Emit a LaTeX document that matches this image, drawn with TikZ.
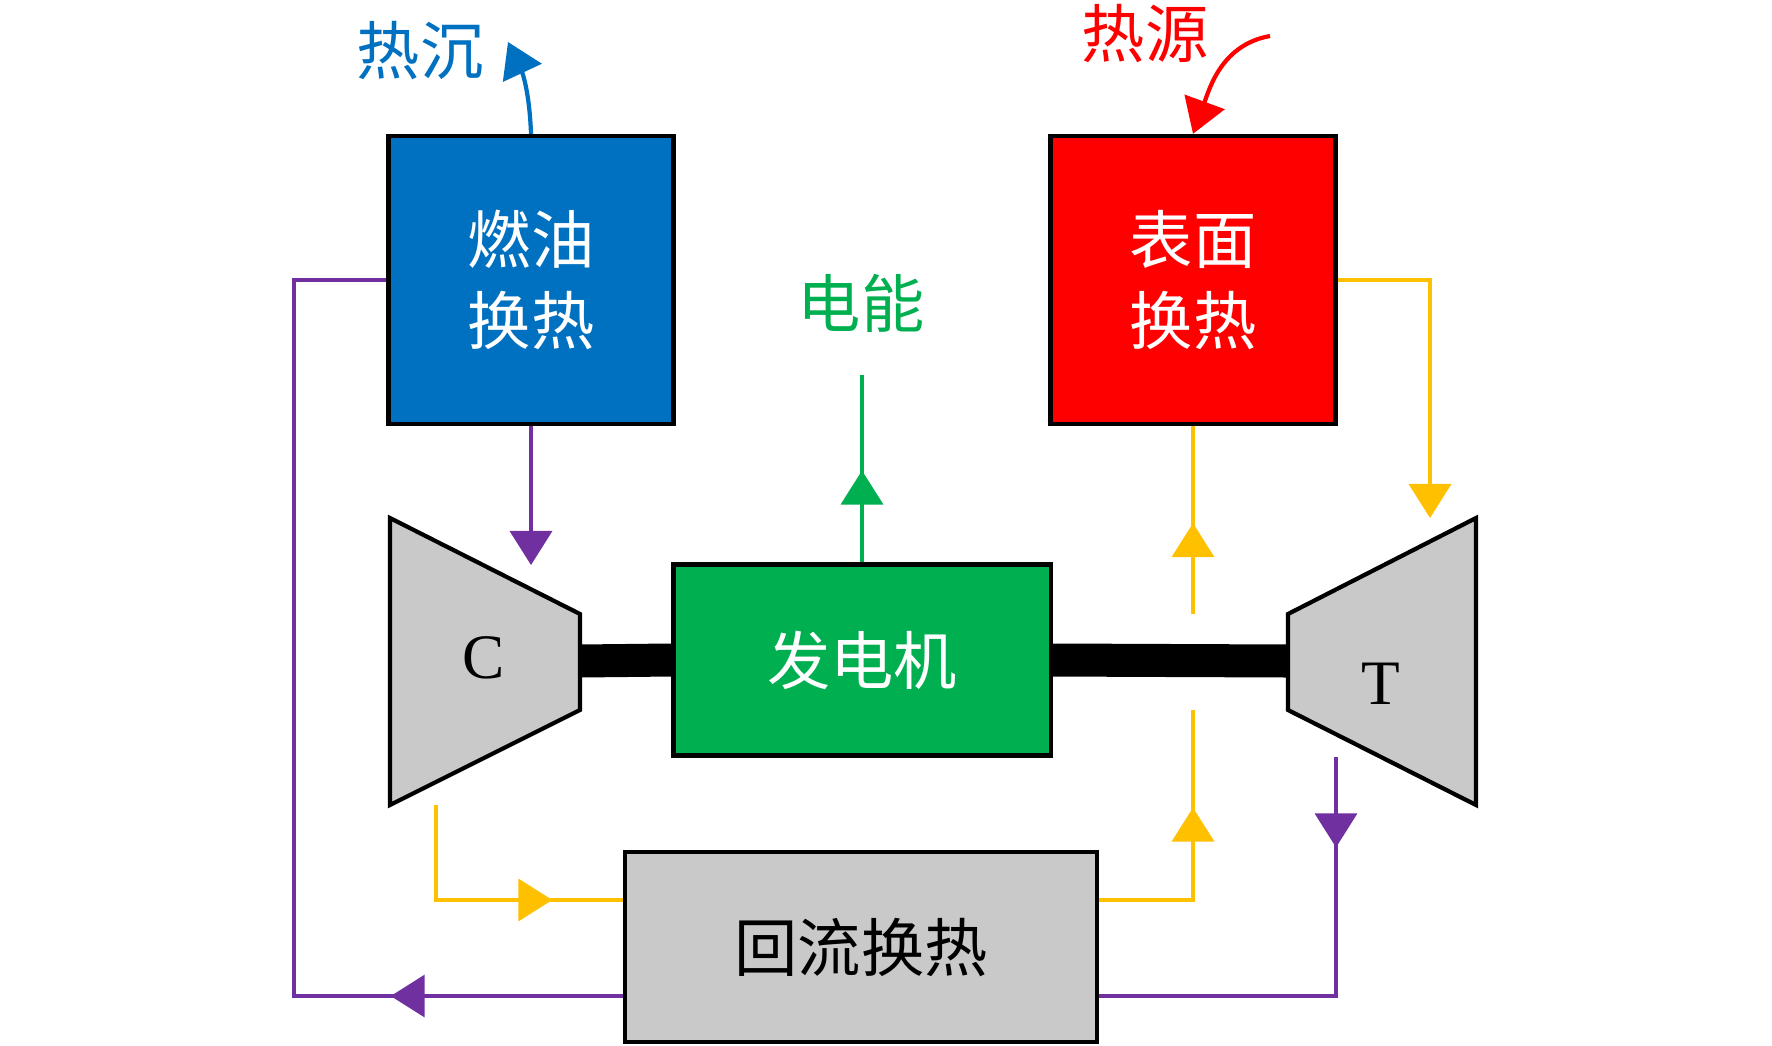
\documentclass[tikz,border=0pt]{standalone}
\usepackage{fontspec}
\setmainfont{Liberation Serif}
\newfontfamily\cjk{Noto Sans CJK SC}
\usetikzlibrary{arrows.meta,decorations.markings}
\definecolor{fuelblue}{RGB}{0,112,192}
\definecolor{hotred}{RGB}{255,0,0}
\definecolor{gengreen}{RGB}{0,176,80}
\definecolor{partgray}{RGB}{201,201,201}
\definecolor{flowyellow}{RGB}{255,192,0}
\definecolor{flowpurple}{RGB}{112,48,160}

\begin{document}
\begin{tikzpicture}[
    x=0.01cm, y=-0.01cm,
    every node/.style={font=\cjk\fontsize{18}{23}\selectfont},
    box/.style={draw, line width=1.2pt, inner sep=0pt, align=center},
    hx/.style={box, minimum width=2.85cm, minimum height=2.88cm, text=white},
    machine/.style={draw, line width=1.2pt, fill=partgray},
    pipe/.style={line width=1pt},
    tip/.style={-{Triangle[length=0.34cm, width=0.42cm]}},
    markat/.style={postaction={decorate, decoration={markings,
        mark=at position #1 with {\arrow{Triangle[length=0.34cm, width=0.42cm]}}}}}
]
\useasboundingbox (0,0) rectangle (1772,1045);

% Heat exchangers
\node[hx, fill=fuelblue] (fuel) at (531,280) {燃油\\换热};
\node[hx, fill=hotred] (surf) at (1193,280) {表面\\换热};

% Generator and recuperator
\node[box, fill=gengreen, text=white, minimum width=3.77cm, minimum height=1.91cm] (gen) at (862,660) {发电机};
\node[box, fill=partgray, minimum width=4.72cm, minimum height=1.9cm] (regen) at (861,947) {回流换热};

% Shaft
\draw[line width=0.33cm] (580,661) -- (gen.west);
\draw[line width=0.33cm] (gen.east) -- (1288,661);

% Compressor
\draw[machine] (390,518) -- (580,614) -- (580,710) -- (390,805) -- cycle;
\node[font=\rmfamily\fontsize{18}{23}\selectfont] (comp) at (484,658) {C};

% Turbine
\draw[machine] (1288,614) -- (1476,518) -- (1476,805) -- (1288,710) -- cycle;
\node[font=\rmfamily\fontsize{18}{23}\selectfont] (turb) at (1381,684) {T};

% Ports
\coordinate (cin) at (531,565);
\coordinate (cout) at (436,805);
\coordinate (tin) at (1430,518);
\coordinate (tout) at (1336,757);
\coordinate (hopbot) at (1193,710);
\coordinate (hoptop) at (1193,614);
\coordinate (elecend) at (862,375);
\coordinate (sinkend) at (508,42);
\coordinate (srcstart) at (1270,36);

% Cold side (purple)
\draw[pipe, flowpurple, tip] (fuel.south) -- (cin);
\draw[pipe, flowpurple, markat=0.19] (tout) |- ([yshift=-0.49cm]regen.east);
\draw[pipe, flowpurple, markat=0.204] ([yshift=-0.49cm]regen.west) -- ++(-329,0) |- (fuel.west);

% Hot side (yellow)
\draw[pipe, flowyellow, markat=0.75] (cout) |- ([yshift=0.47cm]regen.west);
\draw[pipe, flowyellow, markat=0.656] ([yshift=0.47cm]regen.east) -| (hopbot);
\draw[pipe, flowyellow, markat=0.484] (hoptop) -- (surf.south);
\draw[pipe, flowyellow, tip] (surf.east) -| (tin);

% Power output
\draw[pipe, gengreen, markat=0.49] (gen.north) -- (elecend);
\node[text=gengreen] (elec) at (861,303) {电能};

% Heat sink and heat source
\node[text=fuelblue] (sink) at (420,51) {热沉};
\draw[line width=1.2pt, fuelblue, tip] (fuel.north) to[out=92, in=-65] (sinkend);
\node[text=hotred] (src) at (1145,34) {热源};
\draw[line width=1.2pt, hotred, tip] (srcstart) to[out=190, in=70] (surf.north);

\end{tikzpicture}
\end{document}
